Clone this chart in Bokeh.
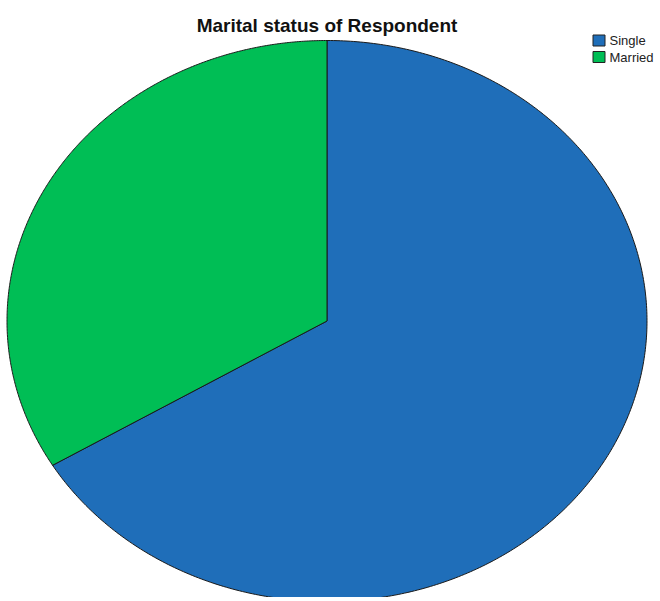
import numpy as np
from bokeh.plotting import figure
from bokeh.models import Range1d, ColumnDataSource
from bokeh.core.properties import value
from bokeh.embed import file_html
from bokeh.resources import INLINE

# ---- data ----
categories = ["Single", "Married"]
percents = [66.4, 33.6]
colors = ["#1f6eb9", "#00be55"]
title_text = "Marital status of Respondent"

# ---- layout (page pixels of reference) ----
W, H = 656, 597
OX, OY = 0, 0
CX, CY, RX, RY = 326.5, 320.5, 320.0, 280.5

def ux(x):
    return (x - CX) / RX

def uy(y):
    return (CY - y) / RY

p = figure(width=W, height=H, output_backend="svg", toolbar_location=None,
           x_range=Range1d(ux(OX), ux(OX + W)), y_range=Range1d(uy(OY + H), uy(OY)),
           min_border=0, min_border_left=0, min_border_right=0,
           min_border_top=0, min_border_bottom=0)
p.axis.visible = False
p.grid.visible = False
p.outline_line_color = None
p.background_fill_color = "white"
p.border_fill_color = "white"

vals = np.array(percents, dtype=float)
frac = vals / vals.sum()
ends = np.cumsum(frac)
starts = ends - frac

xs, ys = [], []
for s, e in zip(starts, ends):
    a0 = np.pi / 2 - 2 * np.pi * s
    a1 = np.pi / 2 - 2 * np.pi * e
    t = np.linspace(a0, a1, 400)
    xs.append(np.concatenate([[0.0], np.cos(t)]).tolist())
    ys.append(np.concatenate([[0.0], np.sin(t)]).tolist())

src = ColumnDataSource(dict(xs=xs, ys=ys, color=colors, name=categories))
p.patches("xs", "ys", source=src, fill_color="color", line_color="#1a1a1a",
          line_width=1)

# title
p.text(x=[ux(326.5)], y=[uy(25)], text=[title_text], text_align="center",
       text_baseline="alphabetic", text_font=value("Liberation Sans"),
       text_font_style="bold", text_font_size="19px", text_color="#111111")

# legend
leg_y = [40.0, 56.5]
p.rect(x=[ux(598.5)] * 2, y=[uy(v) for v in leg_y], width=12, height=11,
       width_units="screen", height_units="screen", fill_color=colors,
       line_color="#222222", line_width=1)
p.text(x=[ux(609)] * 2, y=[uy(v) for v in leg_y], text=categories,
       text_align="left", text_baseline="middle",
       text_font=value("Liberation Sans"), text_font_size="13px",
       text_color="#222222")

open("out.html", "w").write(file_html(p, INLINE))
